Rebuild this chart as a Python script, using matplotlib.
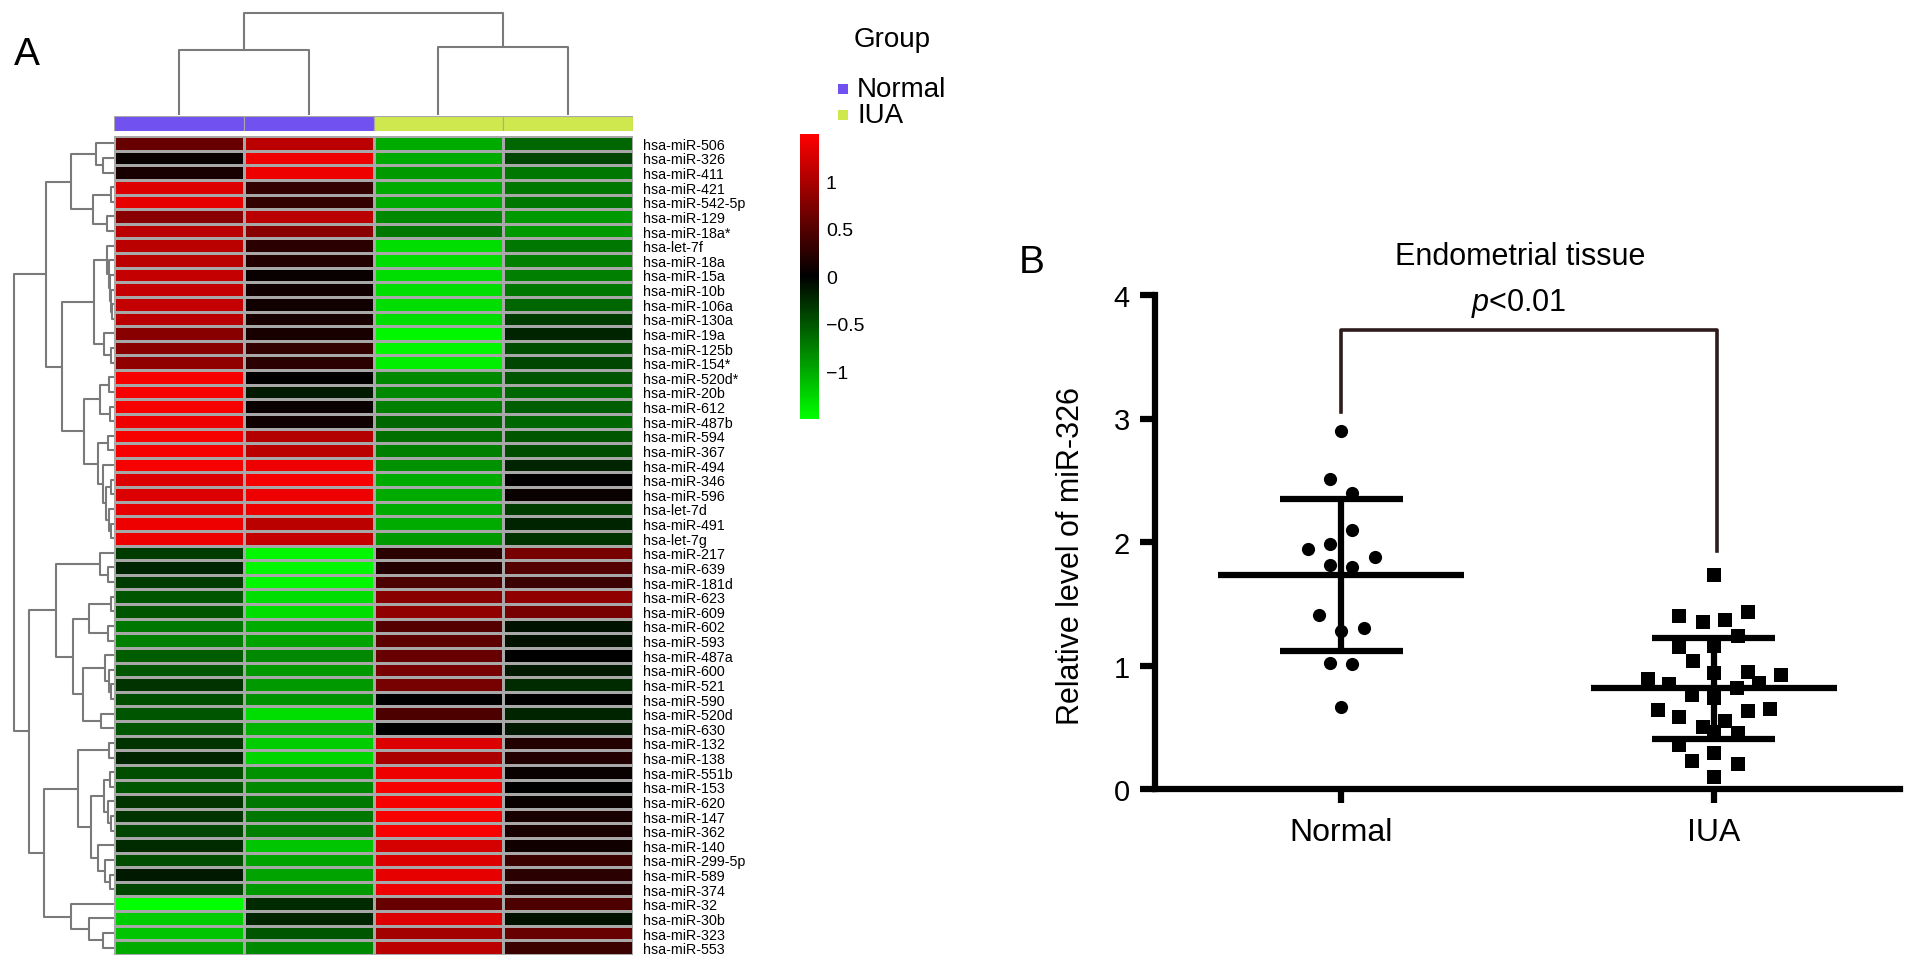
import numpy as np
import matplotlib
matplotlib.use("Agg")
import matplotlib.pyplot as plt
from matplotlib.colors import LinearSegmentedColormap, Normalize
from matplotlib.cm import ScalarMappable
from matplotlib.patches import Rectangle

plt.rcParams['font.family'] = ['Liberation Sans', 'DejaVu Sans']
plt.rcParams['mathtext.fontset'] = 'custom'
plt.rcParams['mathtext.it'] = 'Liberation Sans:italic'
plt.rcParams['mathtext.rm'] = 'Liberation Sans'

# ---------------- Panel A data ----------------
mirnas = ["hsa-miR-506", "hsa-miR-326", "hsa-miR-411", "hsa-miR-421", "hsa-miR-542-5p",
          "hsa-miR-129", "hsa-miR-18a*", "hsa-let-7f", "hsa-miR-18a", "hsa-miR-15a",
          "hsa-miR-10b", "hsa-miR-106a", "hsa-miR-130a", "hsa-miR-19a", "hsa-miR-125b",
          "hsa-miR-154*", "hsa-miR-520d*", "hsa-miR-20b", "hsa-miR-612", "hsa-miR-487b",
          "hsa-miR-594", "hsa-miR-367", "hsa-miR-494", "hsa-miR-346", "hsa-miR-596",
          "hsa-let-7d", "hsa-miR-491", "hsa-let-7g", "hsa-miR-217", "hsa-miR-639",
          "hsa-miR-181d", "hsa-miR-623", "hsa-miR-609", "hsa-miR-602", "hsa-miR-593",
          "hsa-miR-487a", "hsa-miR-600", "hsa-miR-521", "hsa-miR-590", "hsa-miR-520d",
          "hsa-miR-630", "hsa-miR-132", "hsa-miR-138", "hsa-miR-551b", "hsa-miR-153",
          "hsa-miR-620", "hsa-miR-147", "hsa-miR-362", "hsa-miR-140", "hsa-miR-299-5p",
          "hsa-miR-589", "hsa-miR-374", "hsa-miR-32", "hsa-miR-30b", "hsa-miR-323",
          "hsa-miR-553"]

normal_1 = [0.6, 0.05, 0.15, 1.3, 1.35, 0.8, 1.1, 1.1, 1.1, 1.15, 1.15, 1.15, 1.1, 0.8,
            0.8, 0.85, 1.45, 1.45, 1.45, 1.4, 1.45, 1.45, 1.45, 1.3, 1.3, 1.35, 1.4, 1.4,
            -0.35, -0.2, -0.35, -0.5, -0.5, -0.7, -0.75, -0.55, -0.5, -0.3, -0.45, -0.5,
            -0.5, -0.3, -0.2, -0.45, -0.5, -0.3, -0.3, -0.4, -0.25, -0.45, -0.15, -0.4,
            -1.5, -1.2, -1.15, -1.0]
normal_2 = [1.1, 1.4, 1.4, 0.3, 0.3, 1.1, 0.8, 0.25, 0.2, 0.05, 0.1, 0.1, 0.15, 0.15,
            0.3, 0.25, 0.0, -0.15, 0.05, 0.1, 1.05, 1.1, 1.4, 1.45, 1.4, 1.4, 1.1, 1.15,
            -1.45, -1.45, -1.45, -1.3, -1.3, -1.0, -0.95, -0.8, -0.9, -0.9, -0.85, -1.3,
            -1.05, -1.2, -1.25, -0.85, -0.8, -0.7, -0.7, -0.75, -1.15, -0.95, -0.95, -0.9,
            -0.25, -0.2, -0.5, -0.8]
iua_1 = [-1.0, -1.0, -0.9, -1.0, -1.0, -0.8, -0.7, -1.3, -1.3, -1.3, -1.3, -1.3, -1.3, -1.45,
         -1.45, -1.4, -0.8, -0.8, -0.75, -0.6, -0.65, -0.75, -0.85, -1.0, -1.0, -1.0, -1.0, -0.9,
         0.25, 0.2, 0.45, 0.8, 0.85, 0.5, 0.55, 0.6, 0.7, 0.7, 0.0, 0.45, 0.0,
         1.3, 1.0, 1.4, 1.45, 1.45, 1.45, 1.45, 1.25, 1.3, 1.35, 1.4,
         0.6, 1.3, 0.95, 1.1]
iua_2 = [-0.6, -0.4, -0.7, -0.7, -0.7, -0.9, -0.9, -0.7, -0.75, -0.75, -0.7, -0.6, -0.35, -0.2,
         -0.45, -0.4, -0.5, -0.6, -0.55, -0.6, -0.5, -0.45, -0.2, 0.0, 0.05, -0.35, -0.2, -0.3,
         0.7, 0.5, 0.35, 0.85, 0.7, -0.1, -0.1, 0.0, -0.15, -0.25, 0.0, -0.2, -0.15,
         0.2, 0.2, 0.05, 0.0, 0.05, 0.15, 0.15, 0.1, 0.35, 0.25, 0.2,
         0.45, -0.1, 0.6, 0.35]

sample_groups = ["Normal", "Normal", "IUA", "IUA"]
group_colors = {"Normal": "#7152F0", "IUA": "#CFE84E"}
cbar_ticks = [-1, -0.5, 0, 0.5, 1]
cbar_ticklabels = ["\u22121", "\u22120.5", "0", "0.5", "1"]


def L(a, b, h):
    return (a, b, h)


# row dendrogram (leaves = 1-based row numbers, heights in pixels)
A1 = L(L(1, L(2, 3, 11), 18), L(L(4, 5, 3), L(6, 7, 7), 21), 43)
A2a = L(L(8, L(9, L(10, L(11, L(12, 13, 2), 3), 4), 5), 7), L(14, L(15, 16, 3), 10), 20)
A2b = L(L(L(17, 18, 5), L(19, 20, 4), 14),
        L(L(21, 22, 6), L(23, L(L(24, 25, 3), L(26, L(27, 28, 3), 5), 8), 11), 16), 30)
A = L(A1, L(A2a, A2b, 52), 68)
B1 = L(L(29, L(30, 31, 6), 14),
       L(L(L(32, 33, 3), L(34, 35, 6), 25),
         L(L(36, L(37, L(38, 39, 3), 5), 9), L(40, 41, 13), 31), 41), 58)
B2 = L(L(L(42, 43, 5),
         L(L(L(44, 45, 4), L(46, L(47, 48, 3), 6), 10), L(49, L(50, L(51, 52, 4), 9), 16), 23), 36),
       L(53, L(54, L(55, 56, 11), 25), 43), 70)
row_tree = L(A, L(B1, B2, 85), 100)
col_tree = L(L(1, 2, 65), L(3, 4, 68), 102)

# ---------------- Panel B data ----------------
normal_values = [2.90, 2.51, 2.40, 2.10, 1.98, 1.94, 1.88, 1.81, 1.80, 1.41, 1.28, 1.30, 1.02, 1.01, 0.66]
normal_offsets = [0, -0.03, 0.03, 0.03, -0.03, -0.09, 0.09, -0.03, 0.03, -0.06, 0, 0.06, -0.03, 0.03, 0]
iua_values = [1.73, 1.40, 1.35, 1.37, 1.43, 1.24, 1.15, 1.16, 1.04, 0.94, 0.95, 0.92, 0.89, 0.85,
              0.82, 0.86, 0.76, 0.74, 0.64, 0.63, 0.65, 0.58, 0.55, 0.50, 0.46, 0.45, 0.36, 0.29,
              0.23, 0.20, 0.10]
iua_offsets = [0, -0.094, -0.03, 0.03, 0.091, 0.065, -0.094, 0, -0.056, 0, 0.091, 0.18, -0.177,
               -0.121, 0.062, 0.121, -0.059, 0, -0.15, 0.091, 0.15, -0.094, 0.03, -0.03, 0,
               0.065, -0.094, 0, -0.059, 0.065, 0]
groups_b = ["Normal", "IUA"]

# ---------------- figure ----------------
W, H = 1913, 970
fig = plt.figure(figsize=(W / 100, H / 100), dpi=100)


def fax(x0, y0, x1, y1):
    return fig.add_axes([x0 / W, 1 - y1 / H, (x1 - x0) / W, (y1 - y0) / H])


cmap = LinearSegmentedColormap.from_list("gkr", ["#00FF00", "#000000", "#FF0000"], N=256)
norm = Normalize(vmin=-1.5, vmax=1.5)
grid = "#A8A8A8"
dcol = "#7A7A7A"

# heatmap
ax_hm = fax(114, 137, 633, 956)
data = np.array([normal_1, normal_2, iua_1, iua_2]).T
nrow = data.shape[0]
ax_hm.pcolormesh(np.arange(5), np.arange(nrow + 1), data, cmap=cmap, norm=norm,
                 edgecolors=grid, linewidth=0.8)
ax_hm.set_xlim(0, 4)
ax_hm.set_ylim(nrow, 0)
for s in ax_hm.spines.values():
    s.set_visible(False)
ax_hm.set_xticks([])
ax_hm.yaxis.tick_right()
ax_hm.set_yticks(np.arange(nrow) + 0.5)
ax_hm.set_yticklabels(mirnas, fontsize=10.3)
ax_hm.tick_params(axis='y', length=0, pad=7)


def draw_tree(ax, node, orient):
    if isinstance(node, int):
        return node - 0.5, 0.0
    l, r, h = node
    cl, hl = draw_tree(ax, l, orient)
    cr, hr = draw_tree(ax, r, orient)
    if orient == "left":
        ax.plot([hl, h, h, hr], [cl, cl, cr, cr], color=dcol, lw=1.5, solid_capstyle='butt')
    else:
        ax.plot([cl, cl, cr, cr], [hl, h, h, hr], color=dcol, lw=1.5, solid_capstyle='butt')
    return (cl + cr) / 2, h


ax_rd = fax(10, 137, 114, 956)
draw_tree(ax_rd, row_tree, "left")
ax_rd.set_xlim(104, 0)
ax_rd.set_ylim(nrow, 0)
ax_rd.axis("off")

ax_cd = fax(114, 10, 633, 116)
draw_tree(ax_cd, col_tree, "top")
ax_cd.set_xlim(0, 4)
ax_cd.set_ylim(0, 106)
ax_cd.axis("off")

# annotation bar
ax_an = fax(114, 117, 633, 132)
for i, g in enumerate(sample_groups):
    ax_an.add_patch(Rectangle((i, 0), 1, 1, facecolor=group_colors[g], edgecolor=grid, lw=0.8))
ax_an.set_xlim(0, 4)
ax_an.set_ylim(0, 1)
ax_an.axis("off")

# colorbar
ax_cb = fax(800, 135, 819, 420)
cb = fig.colorbar(ScalarMappable(norm=norm, cmap=cmap), cax=ax_cb, ticks=cbar_ticks)
cb.set_ticklabels(cbar_ticklabels)
cb.outline.set_visible(False)
ax_cb.tick_params(length=0, labelsize=14, pad=5)

# group legend
fig.text(854 / W, 1 - 40 / H, "Group", fontsize=20, ha="left", va="center")
for k, (g, yy) in enumerate([("Normal", 90), ("IUA", 116)]):
    fig.add_artist(Rectangle((838 / W, 1 - (yy + 5) / H), 10 / W, 10 / H,
                             facecolor=group_colors[g], edgecolor="none",
                             transform=fig.transFigure))
    fig.text(857 / W, 1 - yy / H, g, fontsize=20, ha="left", va="center")

fig.text(27 / W, 1 - 55 / H, "A", fontsize=28, ha="center", va="center")
fig.text(1032 / W, 1 - 263 / H, "B", fontsize=28, ha="center", va="center")

# ---------------- Panel B ----------------
ax_b = fax(1155, 296, 1900, 790)
lw = 4.5
ax_b.scatter(1 + np.array(normal_offsets), normal_values, marker="o", s=90,
             color="black", zorder=3, linewidths=0, clip_on=False)
ax_b.scatter(2 + np.array(iua_offsets), iua_values, marker="s", s=90,
             color="black", zorder=3, linewidths=0, clip_on=False)
for xc, vals in [(1, normal_values), (2, iua_values)]:
    m = np.mean(vals)
    sd = np.std(vals, ddof=1)
    ax_b.plot([xc - 0.33, xc + 0.33], [m, m], color="black", lw=lw, zorder=4, solid_capstyle='butt')
    ax_b.plot([xc - 0.165, xc + 0.165], [m + sd, m + sd], color="black", lw=lw, zorder=4, solid_capstyle='butt')
    ax_b.plot([xc - 0.165, xc + 0.165], [m - sd, m - sd], color="black", lw=lw, zorder=4, solid_capstyle='butt')
    ax_b.plot([xc, xc], [m - sd, m + sd], color="black", lw=lw, zorder=4, solid_capstyle='butt')

ax_b.plot([1, 1, 2.01, 2.01], [3.05, 3.72, 3.72, 1.93], color="#2E1C1C", lw=2.6,
          clip_on=False, zorder=2)
ax_b.set_xlim(0.5, 2.5)
ax_b.set_ylim(0, 4)
ax_b.spines["top"].set_visible(False)
ax_b.spines["right"].set_visible(False)
ax_b.spines["left"].set_linewidth(lw)
ax_b.spines["bottom"].set_linewidth(lw)
ax_b.set_yticks([0, 1, 2, 3, 4])
ax_b.set_yticklabels(["0", "1", "2", "3", "4"])
ax_b.set_xticks([1, 2])
ax_b.set_xticklabels(groups_b)
ax_b.tick_params(axis="y", length=11, width=lw, labelsize=21, pad=7)
ax_b.tick_params(axis="x", length=10, width=lw, labelsize=23, pad=10)
ax_b.set_ylabel("Relative level of miR-326", fontsize=22)
ax_b.yaxis.set_label_coords(-0.093, 0.474)
fig.text(1520 / W, 1 - 257 / H, "Endometrial tissue", fontsize=22, ha="center", va="center")
fig.text(1519 / W, 1 - 303 / H, "$p$<0.01", fontsize=22, ha="center", va="center")

fig.savefig("out.png", dpi=100)
